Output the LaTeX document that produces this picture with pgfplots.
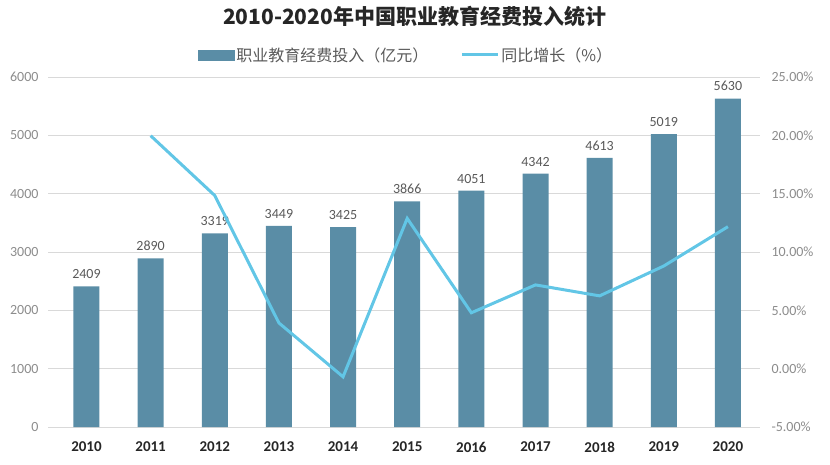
\documentclass[border=0pt]{standalone}
\usepackage{fontspec}
\setmainfont{Carlito}
\newfontfamily\cjk{Noto Sans CJK SC}
\usepackage{pgfplots}
\pgfplotsset{compat=1.18}

\definecolor{barc}{HTML}{5A8DA6}
\definecolor{linec}{HTML}{62C6E6}
\definecolor{gridc}{HTML}{D9D9D9}
\definecolor{tickc}{HTML}{8C8C8C}
\definecolor{labc}{HTML}{595959}
\definecolor{titc}{HTML}{262626}

\begin{document}
\begin{tikzpicture}[x=1pt,y=1pt]
\useasboundingbox (0,0) rectangle (830,464);
\pgfplotsset{base/.style={
    at={(48pt,37pt)}, anchor=south west,
    scale only axis, width=712pt, height=350pt,
    xmin=-0.6, xmax=10.5,
    axis line style={draw=none}, tick style={draw=none},
    /pgf/number format/assume math mode=true,
    /pgf/number format/1000 sep={},
}}

% bars: funding (100 million yuan)
\begin{axis}[base,
    ymin=0, ymax=6000, ytick={0,1000,...,6000},
    ymajorgrids, grid style={gridc, line width=0.8pt},
    xtick={0,...,10},
    xticklabels={2010,2011,2012,2013,2014,2015,2016,2017,2018,2019,2020},
    x tick label style={font=\fontsize{15}{15}\selectfont\bfseries, text=titc, yshift=-7pt},
    y tick label style={font=\fontsize{14}{14}\selectfont, text=tickc, xshift=-6pt},
    ybar, bar width=26pt,
]
\addplot[fill=barc, draw=none, nodes near coords,
    nodes near coords style={font=\fontsize{14}{14}\selectfont, text=labc, yshift=4pt}]
coordinates {
(0,2409) (1,2890) (2,3319) (3,3449) (4,3425) (5,3866)
(6,4051) (7,4342) (8,4613) (9,5019) (10,5630)
};
\end{axis}

% line: year-on-year growth (%)
\begin{axis}[base,
    ymin=-5, ymax=25, ytick={-5,0,...,25},
    yticklabel pos=right,
    yticklabel={\pgfmathprintnumber[fixed,fixed zerofill,precision=2]{\tick}\%},
    y tick label style={font=\fontsize{14}{14}\selectfont, text=tickc, xshift=8pt},
    xtick=\empty,
    title={\cjk\bfseries 2010-2020年中国职业教育经费投入统计},
    title style={at={(0.515,1.157)}, anchor=center,
        font=\fontsize{21}{21}\selectfont, text=titc},
    legend columns=2,
    legend style={draw=none, fill=none, at={(0.503,1.063)}, anchor=center,
        font=\cjk\fontsize{16}{16}\selectfont, text=labc,
        /tikz/every even column/.append style={column sep=30pt}},
]
\addlegendimage{legend image code/.code={\fill[barc] (0pt,-5pt) rectangle (36pt,5pt);}}
\addlegendentry{职业教育经费投入（亿元）}
\addplot[linec, line width=3pt,
    legend image code/.code={\draw[linec, line width=3pt] (0pt,0pt) -- (36pt,0pt);}]
coordinates {
(1,19.97) (2,14.84) (3,3.92) (4,-0.70) (5,12.88)
(6,4.79) (7,7.18) (8,6.24) (9,8.80) (10,12.17)
};
\addlegendentry{同比增长（\%）}
\end{axis}
\end{tikzpicture}
\end{document}
